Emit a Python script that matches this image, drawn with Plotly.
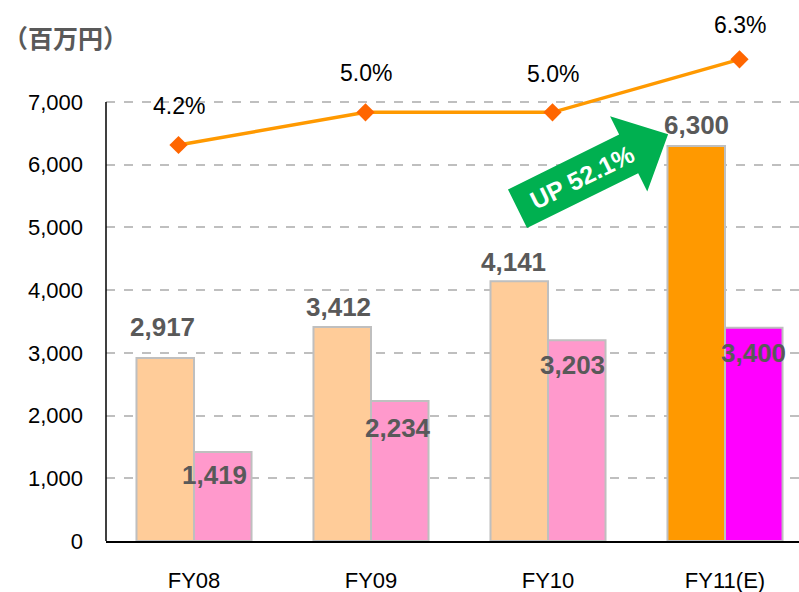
import math
import plotly.graph_objects as go

# ---- data ----
categories = ["FY08", "FY09", "FY10", "FY11(E)"]
sales = [2917, 3412, 4141, 6300]
profit = [1419, 2234, 3203, 3400]
margin_pct = [4.2, 5.0, 5.0, 6.3]
y_ticks = [0, 1000, 2000, 3000, 4000, 5000, 6000, 7000]
unit_label = "（百万円）"
arrow_label = "UP 52.1%"

# ---- layout helpers (pixel geometry of the plot area) ----
W, H = 799, 592
PL, PR, PT, PB = 106, 799, 10, 541
pw, ph = PR - PL, PB - PT


def px(x):
    return (x - PL) / pw


def py(y):
    return (PB - y) / ph


y_top = (PB - PT) * 7000 / 439.0  # 7000 sits at pixel 102
x_range = [(PL - 194) / 177.0, (PR - 194) / 177.0]
x2_range = [(PL - 178.5) / 187.0, (PR - 178.5) / 187.0]
y2_per = 40.8
y2_range = [4.2 - (PB - 145) / y2_per, 4.2 + (145 - PT) / y2_per]

sales_colors = ["#FFCC99", "#FFCC99", "#FFCC99", "#FF9900"]
profit_colors = ["#FF99CC", "#FF99CC", "#FF99CC", "#FF00FF"]

fig = go.Figure()
fig.add_trace(go.Bar(x=categories, y=sales, name="売上高",
                     marker=dict(color=sales_colors, line=dict(color="#BFBFBF", width=2)),
                     hoverinfo="x+y"))
fig.add_trace(go.Bar(x=categories, y=profit, name="営業利益",
                     marker=dict(color=profit_colors, line=dict(color="#BFBFBF", width=2)),
                     hoverinfo="x+y"))
fig.add_trace(go.Scatter(x=categories, y=margin_pct, xaxis="x2", yaxis="y2",
                         mode="lines+markers", name="営業利益率",
                         line=dict(color="#FF9900", width=3.5),
                         marker=dict(symbol="diamond", size=14, color="#FF6600"),
                         cliponaxis=False))

annotations = []
label_font = dict(family="Liberation Sans, Arial, sans-serif", size=26, color="#595959")
half = 0.1625
sales_shift = [(-3, 31), (-4, 20), (-6, 19), (0, 21)]
profit_shift = [(-8, -23), (-2, -27), (-4, -25), (0, -25)]
for i, v in enumerate(sales):
    annotations.append(dict(x=i - half, y=v, xref="x", yref="y", text=f"<b>{v:,}</b>",
                            showarrow=False, font=label_font, xanchor="center", yanchor="middle",
                            xshift=sales_shift[i][0], yshift=sales_shift[i][1]))
for i, v in enumerate(profit):
    annotations.append(dict(x=i + half, y=v, xref="x", yref="y", text=f"<b>{v:,}</b>",
                            showarrow=False, font=label_font, xanchor="center", yanchor="middle",
                            xshift=profit_shift[i][0], yshift=profit_shift[i][1]))

pct_font = dict(family="Liberation Sans, Arial, sans-serif", size=23, color="#000000")
pct_shift = [39, 39, 38, 34]
for i, v in enumerate(margin_pct):
    annotations.append(dict(x=i, y=v, xref="x2", yref="y2", text=f"{v:.1f}%",
                            showarrow=False, font=pct_font, xanchor="center", yanchor="middle",
                            yshift=pct_shift[i]))

# unit label
annotations.append(dict(x=px(1), y=py(37), xref="paper", yref="paper", text=f"<b>{unit_label}</b>",
                        showarrow=False, xanchor="left", yanchor="middle",
                        font=dict(family="Noto Sans CJK JP, sans-serif", size=25, color="#595959")))

# green arrow
ang = math.radians(26.3)
u = (math.cos(ang), -math.sin(ang))
n = (math.sin(ang), math.cos(ang))
S = (517.5, 208.8)
shaft_half, head_half, shaft_len, tip_len = 21.5, 42.0, 124.0, 168.0


def pt(a, b):
    return (S[0] + u[0] * a + n[0] * b, S[1] + u[1] * a + n[1] * b)


poly = [pt(0, -shaft_half), pt(shaft_len, -shaft_half), pt(shaft_len, -head_half),
        pt(tip_len, 0), pt(shaft_len, head_half), pt(shaft_len, shaft_half), pt(0, shaft_half)]
path = "M " + " L ".join(f"{px(x):.5f},{py(y):.5f}" for x, y in poly) + " Z"

shapes = [
    dict(type="path", path=path, xref="paper", yref="paper", fillcolor="#00B050",
         line=dict(width=0), layer="above"),
    dict(type="line", xref="paper", yref="y", x0=0, x1=0, y0=0, y1=7000,
         line=dict(color="#000000", width=1.5), layer="above"),
]

tc = pt(72, 0)
annotations.append(dict(x=px(tc[0]), y=py(tc[1]), xref="paper", yref="paper",
                        text=f"<b>{arrow_label}</b>", showarrow=False, textangle=-26.3,
                        xanchor="center", yanchor="middle",
                        font=dict(family="Liberation Sans, Arial, sans-serif", size=25, color="#FFFFFF")))

fig.update_layout(
    width=W, height=H,
    margin=dict(l=PL, r=W - PR, t=PT, b=H - PB, pad=0, autoexpand=False),
    paper_bgcolor="#FFFFFF", plot_bgcolor="#FFFFFF",
    barmode="group", bargap=0.35, bargroupgap=0,
    showlegend=False,
    annotations=annotations, shapes=shapes,
    xaxis=dict(type="category", range=x_range, showgrid=False, zeroline=False, automargin=False,
               showline=True, linecolor="#000000", linewidth=1.5, ticks="",
               ticklabelstandoff=19,
               tickfont=dict(family="Liberation Sans, Arial, sans-serif", size=22, color="#000000")),
    yaxis=dict(range=[0, y_top], tickvals=y_ticks, tickformat=",d", showgrid=True, automargin=False,
               gridcolor="#BFBFBF", gridwidth=1.5, griddash="dash", zeroline=False,
               showline=False, ticks="", ticklabelstandoff=22,
               tickfont=dict(family="Liberation Sans, Arial, sans-serif", size=22, color="#000000")),
    xaxis2=dict(type="category", overlaying="x", anchor="y2", range=x2_range, visible=False),
    yaxis2=dict(overlaying="y", anchor="x2", range=y2_range, visible=False),
)

fig.write_html("out.html", config={"displayModeBar": False},
               post_script="document.body.style.margin='0';document.body.style.padding='0';")
